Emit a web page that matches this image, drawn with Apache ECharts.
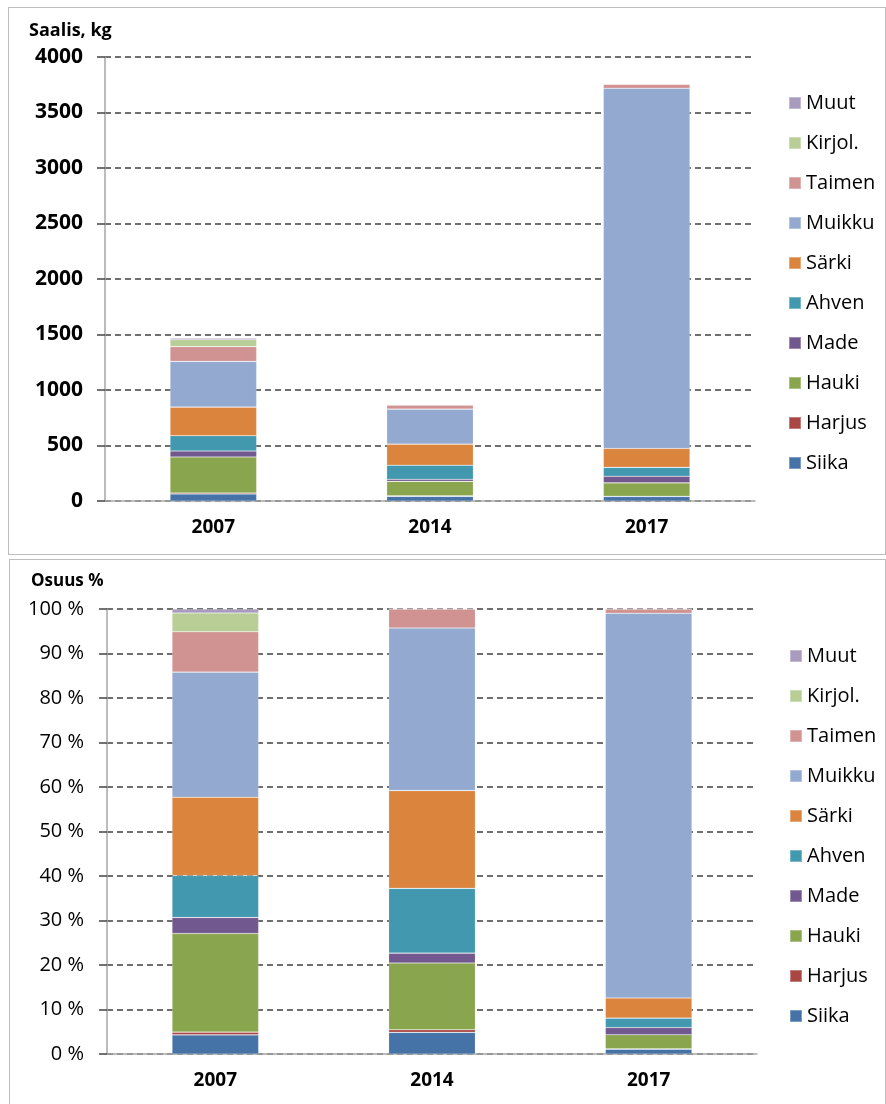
<!DOCTYPE html>
<html>
<head>
<meta charset="utf-8">
<script src="https://cdn.jsdelivr.net/npm/echarts@6/dist/echarts.min.js"></script>
<style>
  html, body { margin: 0; padding: 0; background: #fff; width: 886px; height: 1104px; overflow: hidden; }
  #top { position: absolute; left: 8px; top: 7px; width: 878px; height: 548px; border: 1.5px solid #bdbdbd; box-sizing: border-box; }
  #bot { position: absolute; left: 9px; top: 559px; width: 877px; height: 550px; border: 1.5px solid #bdbdbd; box-sizing: border-box; }
  #c1, #c2 { width: 100%; height: 100%; }
</style>
</head>
<body>
<div id="top"><div id="c1"></div></div>
<div id="bot"><div id="c2"></div></div>
<script>
const years = ['2007', '2014', '2017'];
const speciesNames = ['Siika', 'Harjus', 'Hauki', 'Made', 'Ahven', 'Särki', 'Muikku', 'Taimen', 'Kirjol.', 'Muut'];
const legendOrder = ['Muut', 'Kirjol.', 'Taimen', 'Muikku', 'Särki', 'Ahven', 'Made', 'Hauki', 'Harjus', 'Siika'];
// catch in kg per year (2007, 2014, 2017)
const siika  = [63, 42, 40];
const harjus = [9, 5, 3];
const hauki  = [325, 130, 120];
const made   = [53, 19, 60];
const ahven  = [138, 126, 80];
const sarki  = [258, 190, 170];
const muikku = [412, 316, 3245];
const taimen = [133, 37, 36];
const kirjol = [62, 0, 0];
const muut   = [13, 0, 0];
const kgTicks = [0, 500, 1000, 1500, 2000, 2500, 3000, 3500, 4000];
const pctTicks = [0, 10, 20, 30, 40, 50, 60, 70, 80, 90, 100];
const colors = ['#4572A7', '#AA4643', '#89A54E', '#71588F', '#4198AF', '#DB843D', '#93A9CF', '#D19392', '#B9CD96', '#A99BBD'];

const seriesData = [siika, harjus, hauki, made, ahven, sarki, muikku, taimen, kirjol, muut];
const totals = years.map((_, i) => seriesData.reduce((s, arr) => s + arr[i], 0));
const pctData = seriesData.map(arr => arr.map((v, i) => v / totals[i] * 100));

const FONT = 'Open Sans';

function makeOption(data, isPct) {
  const ticks = isPct ? pctTicks : kgTicks;
  return {
    animation: false,
    textStyle: { fontFamily: FONT },
    title: {
      text: isPct ? 'Osuus %' : 'Saalis, kg',
      left: isPct ? 16 : 15,
      top: isPct ? 8 : 9,
      textStyle: { fontFamily: FONT, fontWeight: 'bold', fontSize: isPct ? 17 : 18, color: '#000' }
    },
    legend: {
      orient: 'vertical',
      left: 774,
      top: isPct ? 81 : 80,
      data: legendOrder,
      itemWidth: 12,
      itemHeight: 12,
      itemGap: 20,
      icon: 'rect',
      textStyle: { fontFamily: FONT, fontSize: 20, color: '#000', lineHeight: 20, padding: [0, 0, 0, 0] }
    },
    grid: {
      left: isPct ? 97 : 96,
      top: 49,
      width: 650,
      height: isPct ? 445 : 444
    },
    xAxis: {
      type: 'category',
      data: years,
      axisLine: { lineStyle: { color: '#a6a6a6', width: 1.5 } },
      axisTick: { show: false },
      axisLabel: { fontFamily: FONT, fontWeight: 'bold', fontSize: 19, color: '#000', margin: 17 }
    },
    yAxis: {
      type: 'value',
      min: ticks[0],
      max: ticks[ticks.length - 1],
      interval: ticks[1] - ticks[0],
      axisLine: { show: true, lineStyle: { color: '#a6a6a6', width: 1.5 } },
      axisTick: { show: true, length: 8, lineStyle: { color: '#444', width: 1.5 } },
      axisLabel: {
        fontFamily: FONT,
        fontWeight: isPct ? 'normal' : 'bold',
        fontSize: isPct ? 20 : 21,
        color: '#000',
        margin: isPct ? 23 : 22,
        formatter: isPct ? (v => v + ' %') : (v => String(v))
      },
      splitLine: { show: true, lineStyle: { color: '#404040', width: 1.5, type: [6, 4] } }
    },
    series: speciesNames.map((name, k) => ({
      name: name,
      type: 'bar',
      stack: 'total',
      barWidth: '40%',
      itemStyle: { color: colors[k], borderColor: 'rgba(255,255,255,0.3)', borderWidth: 0.6 },
      data: data[k]
    }))
  };
}

const c1 = echarts.init(document.getElementById('c1'), null, { renderer: 'canvas' });
c1.setOption(makeOption(seriesData, false));
const c2 = echarts.init(document.getElementById('c2'), null, { renderer: 'canvas' });
c2.setOption(makeOption(pctData, true));
</script>
</body>
</html>
